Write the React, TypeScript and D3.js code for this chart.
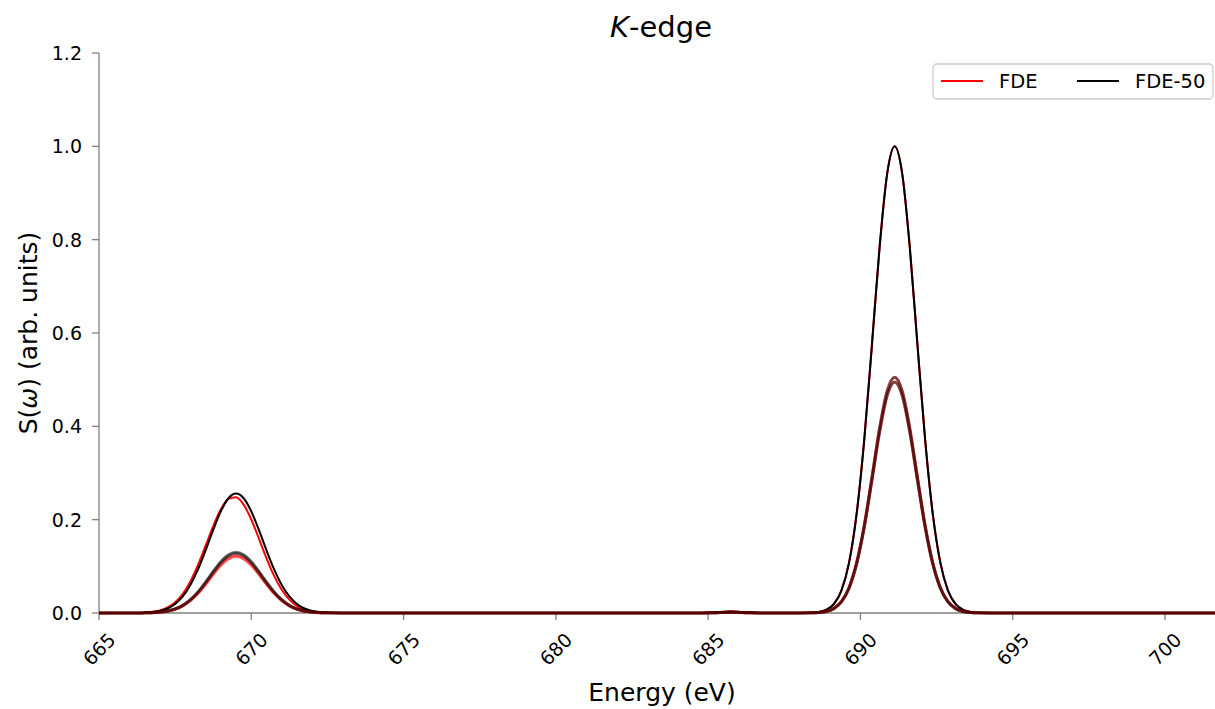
import React from 'react';
import * as d3 from 'd3';

// energy grid (eV) shared by every spectrum
const energy = [
  665, 666.25,
  666.5, 666.75, 667, 667.25, 667.5, 667.75, 668, 668.25, 668.5, 668.75, 669, 669.25, 669.5,
  669.75, 670, 670.25, 670.5, 670.75, 671, 671.25, 671.5, 671.75, 672, 672.25, 672.5,
  673,
  684.75, 685.25, 685.75, 686.25, 686.75,
  688,
  688.375, 688.625, 688.875, 689.125, 689.375, 689.625, 689.875, 690.125, 690.375, 690.625, 690.875, 691.125,
  691.375, 691.625, 691.875, 692.125, 692.375, 692.625, 692.875, 693.125, 693.375, 693.625, 693.875,
  694.25, 702,
];

// total spectra
const fde = [
  0, 0,
  0.0010, 0.0025, 0.0057, 0.0119, 0.0231, 0.0411, 0.0677, 0.1029, 0.1442, 0.1864, 0.2222, 0.2444, 0.2480,
  0.2321, 0.2004, 0.1596, 0.1173, 0.0795, 0.0497, 0.0287, 0.0152, 0.0075, 0.0034, 0.0014, 0.0005,
  0,
  0, 0.0015, 0.003, 0.0015, 0,
  0,
  0.0006, 0.0020, 0.0066, 0.0189, 0.0480, 0.1073, 0.2123, 0.3709, 0.5724, 0.7804, 0.9399, 1.0,
  0.9399, 0.7804, 0.5724, 0.3709, 0.2123, 0.1073, 0.0480, 0.0189, 0.0066, 0.0020, 0.0006,
  0, 0,
];
const fde50 = [
  0, 0,
  0.0008, 0.0019, 0.0045, 0.0097, 0.0194, 0.0355, 0.0599, 0.0933, 0.1342, 0.1780, 0.2178, 0.2459, 0.2560,
  0.2459, 0.2178, 0.1780, 0.1342, 0.0933, 0.0599, 0.0355, 0.0194, 0.0097, 0.0045, 0.0019, 0.0008,
  0,
  0, 0.0015, 0.003, 0.0015, 0,
  0,
  0.0006, 0.0020, 0.0066, 0.0189, 0.0480, 0.1073, 0.2123, 0.3709, 0.5724, 0.7804, 0.9399, 1.0,
  0.9399, 0.7804, 0.5724, 0.3709, 0.2123, 0.1073, 0.0480, 0.0189, 0.0066, 0.0020, 0.0006,
  0, 0,
];

// individual contributions
const fdeA = [
  0, 0,
  0.0003, 0.0007, 0.0018, 0.0040, 0.0082, 0.0155, 0.0269, 0.0428, 0.0626, 0.0841, 0.1039, 0.1179, 0.1230,
  0.1179, 0.1039, 0.0841, 0.0626, 0.0428, 0.0269, 0.0155, 0.0082, 0.0040, 0.0018, 0.0007, 0.0003,
  0,
  0, 0.0008, 0.0015, 0.0008, 0,
  0,
  0.0003, 0.0010, 0.0033, 0.0096, 0.0242, 0.0542, 0.1072, 0.1873, 0.2891, 0.3941, 0.4746, 0.5050,
  0.4746, 0.3941, 0.2891, 0.1873, 0.1072, 0.0542, 0.0242, 0.0096, 0.0033, 0.0010, 0.0003,
  0, 0,
];
const fdeB = [
  0, 0,
  0.0003, 0.0007, 0.0018, 0.0039, 0.0081, 0.0153, 0.0264, 0.0421, 0.0615, 0.0827, 0.1022, 0.1160, 0.1210,
  0.1160, 0.1022, 0.0827, 0.0615, 0.0421, 0.0264, 0.0153, 0.0081, 0.0039, 0.0018, 0.0007, 0.0003,
  0,
  0, 0.0008, 0.0015, 0.0008, 0,
  0,
  0.0003, 0.0010, 0.0033, 0.0094, 0.0237, 0.0531, 0.1051, 0.1836, 0.2833, 0.3863, 0.4653, 0.4950,
  0.4653, 0.3863, 0.2833, 0.1836, 0.1051, 0.0531, 0.0237, 0.0094, 0.0033, 0.0010, 0.0003,
  0, 0,
];
const fde50A = [
  0, 0,
  0.0003, 0.0008, 0.0019, 0.0042, 0.0087, 0.0164, 0.0284, 0.0452, 0.0661, 0.0889, 0.1098, 0.1246, 0.1300,
  0.1246, 0.1098, 0.0889, 0.0661, 0.0452, 0.0284, 0.0164, 0.0087, 0.0042, 0.0019, 0.0008, 0.0003,
  0,
  0, 0.0008, 0.0015, 0.0008, 0,
  0,
  0.0003, 0.0010, 0.0033, 0.0096, 0.0242, 0.0542, 0.1072, 0.1873, 0.2891, 0.3941, 0.4746, 0.5050,
  0.4746, 0.3941, 0.2891, 0.1873, 0.1072, 0.0542, 0.0242, 0.0096, 0.0033, 0.0010, 0.0003,
  0, 0,
];
const fde50B = [
  0, 0,
  0.0003, 0.0008, 0.0019, 0.0042, 0.0086, 0.0161, 0.0280, 0.0445, 0.0651, 0.0875, 0.1081, 0.1227, 0.1280,
  0.1227, 0.1081, 0.0875, 0.0651, 0.0445, 0.0280, 0.0161, 0.0086, 0.0042, 0.0019, 0.0008, 0.0003,
  0,
  0, 0.0008, 0.0015, 0.0008, 0,
  0,
  0.0003, 0.0010, 0.0033, 0.0094, 0.0237, 0.0531, 0.1051, 0.1836, 0.2833, 0.3863, 0.4653, 0.4950,
  0.4653, 0.3863, 0.2833, 0.1836, 0.1051, 0.0531, 0.0237, 0.0094, 0.0033, 0.0010, 0.0003,
  0, 0,
];

const xTicks = [665, 670, 675, 680, 685, 690, 695, 700];
const yTicks = [0.0, 0.2, 0.4, 0.6, 0.8, 1.0, 1.2];

const W = 1215;
const H = 709;
const FONT = '"DejaVu Sans", sans-serif';
const AXIS_GREY = '#808080';

export default function App() {
  const x = d3.scaleLinear().domain([665, 700]).range([99, 1165]);
  const y = d3.scaleLinear().domain([0, 1.2]).range([613, 53]);

  const line = d3.line<number>()
    .x((_, i) => x(energy[i]))
    .y(d => y(d))
    .curve(d3.curveMonotoneX);

  // drawing order matters for how the overlapping baseline blends
  const series = [
    { data: fde, color: 'red', width: 2, opacity: 1 },
    { data: fde50, color: 'black', width: 2, opacity: 1 },
    { data: fdeA, color: 'red', width: 3, opacity: 0.5 },
    { data: fde50A, color: 'black', width: 3, opacity: 0.5 },
    { data: fdeB, color: 'red', width: 3, opacity: 0.5 },
    { data: fde50B, color: 'black', width: 3, opacity: 0.5 },
  ];

  return (
    <svg width={W} height={H} style={{ position: 'absolute', left: 0, top: 0, background: 'white' }}
      fontFamily={FONT}>
      <defs>
        <clipPath id="plot">
          <rect x={x(665)} y={0} width={W - x(665)} height={y(0) + 3} />
        </clipPath>
      </defs>

      {/* spines */}
      <line x1={x(665)} x2={x(665)} y1={y(1.2)} y2={y(0)} stroke={AXIS_GREY} strokeWidth={1.3} />
      <line x1={x(665)} x2={W} y1={y(0)} y2={y(0)} stroke={AXIS_GREY} strokeWidth={1.3} />

      {/* y ticks */}
      {yTicks.map(t => (
        <g key={t}>
          <line x1={x(665) - 7} x2={x(665)} y1={y(t)} y2={y(t)} stroke={AXIS_GREY} strokeWidth={1.3} />
          <text x={x(665) - 17} y={y(t)} textAnchor="end" dominantBaseline="central" fontSize={19}>
            {t.toFixed(1)}
          </text>
        </g>
      ))}

      {/* x ticks */}
      {xTicks.map(t => (
        <g key={t}>
          <line x1={x(t)} x2={x(t)} y1={y(0)} y2={y(0) + 7} stroke={AXIS_GREY} strokeWidth={1.3} />
          <text transform={`translate(${x(t)},${649}) rotate(-45)`} textAnchor="middle"
            dominantBaseline="central" fontSize={19}>
            {t}
          </text>
        </g>
      ))}

      {/* curves */}
      <g clipPath="url(#plot)">
        {series.map((s, i) => (
          <path key={i} d={line(s.data) ?? ''} fill="none" stroke={s.color}
            strokeWidth={s.width} strokeOpacity={s.opacity} strokeLinejoin="round" />
        ))}
      </g>

      {/* labels */}
      <text x={662} y={701} textAnchor="middle" fontSize={25}>Energy (eV)</text>
      <text transform={`translate(${28},${333}) rotate(-90)`} textAnchor="middle"
        dominantBaseline="central" fontSize={25}>
        S(<tspan fontStyle="italic">ω</tspan>) (arb. units)
      </text>
      <text x={661} y={37} textAnchor="middle" fontSize={29}>
        <tspan fontStyle="italic">K</tspan>-edge
      </text>

      {/* legend */}
      <g>
        <rect x={933} y={64} width={280} height={35} rx={4} fill="white" fillOpacity={0.8}
          stroke="#cccccc" strokeWidth={1.3} />
        <line x1={941} x2={983} y1={81} y2={81} stroke="red" strokeWidth={2} />
        <text x={999} y={81} dominantBaseline="central" fontSize={19.5}>FDE</text>
        <line x1={1077} x2={1119} y1={81} y2={81} stroke="black" strokeWidth={2} />
        <text x={1135} y={81} dominantBaseline="central" fontSize={19.5}>FDE-50</text>
      </g>
    </svg>
  );
}
